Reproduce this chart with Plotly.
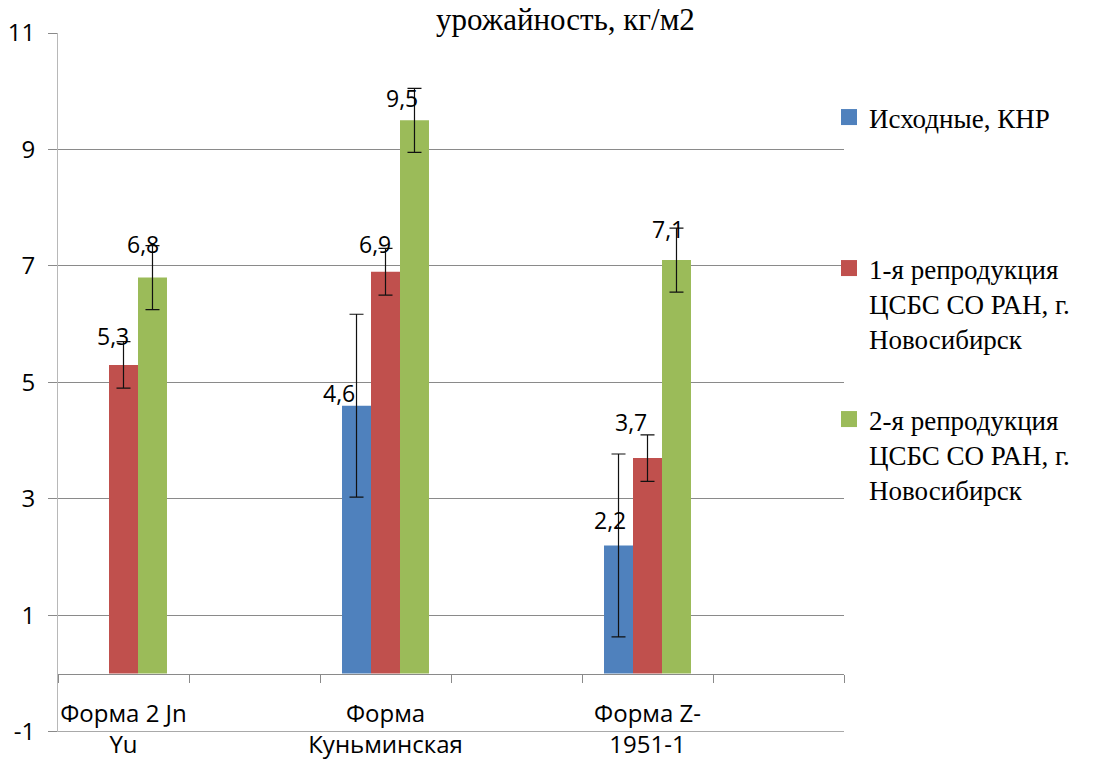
import plotly.graph_objects as go

# ---- data -------------------------------------------------------------
forms = ["Форма 2 Jn<br>Yu", "Форма<br>Куньминская", "Форма Z-<br>1951-1"]
series_names = [
    "Исходные, КНР",
    "1-я репродукция<br>ЦСБС СО РАН, г.<br>Новосибирск",
    "2-я репродукция<br>ЦСБС СО РАН, г.<br>Новосибирск",
]
initial_vals = [None, 4.6, 2.2]
repro1_vals = [5.3, 6.9, 3.7]
repro2_vals = [6.8, 9.5, 7.1]
initial_err = [None, 1.57, 1.57]
repro1_err = [0.4, 0.4, 0.4]
repro2_err = [0.55, 0.55, 0.55]
y_ticks = [-1, 1, 3, 5, 7, 9, 11]
title_text = "урожайность, кг/м2"

# ---- styling ----------------------------------------------------------
W, H = 1094, 760
PL, PR, PT, PB = 58, 844, 33, 732          # plot area in pixels
colors = ["#4F81BD", "#C0504D", "#9BBB59"]
SANS = "Open Sans, Liberation Sans, sans-serif"
SERIF = "Liberation Serif, Times New Roman, serif"
BARGAP = 0.336
GRID = "#8a8a8a"

# label nudges in pixels (dx, dy above bar top) per series / form
label_nudge = [
    [(0, 0), (-18, 13), (-9, 25)],
    [(-11, 29), (-11, 28), (-17, 36)],
    [(-9, 34), (-12, 22), (-8, 31)],
]


def px_x(px):
    return (px - PL) / (PR - PL)


def px_y(py):
    return (PB - py) / (PB - PT)


# each form is followed by an empty slot on the category axis
categories = []
for i, f in enumerate(forms):
    categories += [f, " " * (i + 1)]

values = [initial_vals, repro1_vals, repro2_vals]
errors = [initial_err, repro1_err, repro2_err]

fig = go.Figure()
for k in range(3):
    fig.add_trace(go.Bar(
        x=forms, y=values[k], name=series_names[k],
        marker=dict(color=colors[k], line=dict(width=0)),
        error_y=dict(type="data", array=errors[k], visible=True,
                     color="#111111", thickness=1.2, width=7),
        showlegend=False,
    ))

# legend entries (square swatches), one legend box per series
legend_keys = ["legend", "legend2", "legend3"]
for k in range(3):
    fig.add_trace(go.Scatter(
        x=[None], y=[None], mode="markers", name=series_names[k],
        marker=dict(symbol="square", size=16, color=colors[k], line=dict(width=0)),
        legend=legend_keys[k], showlegend=True,
    ))

legend_first_line = [120, 271, 422]
for k in range(3):
    fig.update_layout({legend_keys[k]: dict(
        x=px_x(829), y=px_y(legend_first_line[k] - 27), xanchor="left", yanchor="top",
        font=dict(family=SERIF, size=27, color="black"),
        bgcolor="rgba(0,0,0,0)", borderwidth=0, valign="top",
        itemwidth=30, tracegroupgap=0,
    )})

# value labels
bw = (1 - BARGAP) / 3
annotations = []
for k in range(3):
    for i, v in enumerate(values[k]):
        if v is None:
            continue
        dx, dy = label_nudge[k][i]
        annotations.append(dict(
            x=2 * i + (k - 1) * bw, y=v, xref="x", yref="y",
            text=f"{v:.1f}".replace(".", ","), showarrow=False,
            xanchor="center", yanchor="middle", xshift=dx, yshift=dy,
            font=dict(family=SANS, size=23, color="black"),
        ))

annotations.append(dict(
    x=px_x(565), y=px_y(20), xref="paper", yref="paper",
    text=title_text, showarrow=False, xanchor="center", yanchor="middle",
    font=dict(family=SERIF, size=31, color="black"),
))

fig.update_layout(
    template="none",
    width=W, height=H,
    margin=dict(l=PL, r=W - PR, t=PT, b=H - PB, pad=0),
    paper_bgcolor="white", plot_bgcolor="white",
    barmode="group", bargap=BARGAP, bargroupgap=0,
    annotations=annotations,
    # bottom gridline at the lower end of the value range
    shapes=[dict(type="line", xref="paper", x0=0, x1=1, yref="y",
                 y0=y_ticks[0], y1=y_ticks[0], layer="below",
                 line=dict(color=GRID, width=1))],
    xaxis=dict(
        type="category", categoryorder="array", categoryarray=categories,
        range=[-0.5, len(categories) - 0.5],
        anchor="free", position=px_y(PB - (PB - PT) / 12),
        showline=True, linecolor=GRID, linewidth=1,
        showgrid=False, zeroline=False,
        ticks="outside", ticklen=8, tickcolor=GRID, tickwidth=1,
        tickson="boundaries", tickangle=0, ticklabelstandoff=18,
        tickfont=dict(family=SANS, size=24, color="black"),
        automargin=False, fixedrange=True,
    ),
    yaxis=dict(
        range=[-1.004, 11], tickvals=y_ticks, ticktext=[str(t) for t in y_ticks],
        showgrid=True, gridcolor=GRID, gridwidth=1,
        showline=True, linecolor="#b8b8b8", linewidth=1,
        zeroline=False,
        ticks="outside", ticklen=9, tickcolor=GRID, tickwidth=1,
        ticklabelstandoff=8,
        tickfont=dict(family=SANS, size=24, color="black"),
        automargin=False, fixedrange=True,
    ),
)

fig.write_html("out.html")
